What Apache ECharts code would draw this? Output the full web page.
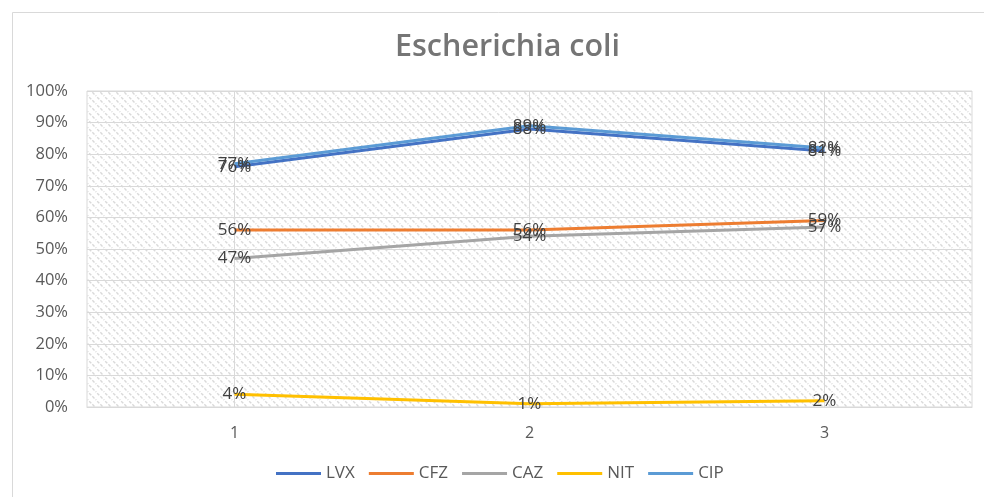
<!DOCTYPE html>
<html>
<head>
<meta charset="utf-8">
<script src="https://cdn.jsdelivr.net/npm/echarts@6/dist/echarts.min.js"></script>
<style>html,body{margin:0;padding:0;background:#fff;}#c{width:984px;height:497px;}</style>
</head>
<body>
<div id="c"></div>
<script>
const categories = ['1', '2', '3'];
const LVX = [0.76, 0.88, 0.81];
const CFZ = [0.56, 0.56, 0.59];
const CAZ = [0.47, 0.54, 0.57];
const NIT = [0.04, 0.01, 0.02];
const CIP = [0.77, 0.89, 0.82];
const seriesNames = ['LVX', 'CFZ', 'CAZ', 'NIT', 'CIP'];
const seriesData = [LVX, CFZ, CAZ, NIT, CIP];
const colors = ['#4472C4', '#ED7D31', '#A5A5A5', '#FFC000', '#5B9BD5'];

// hatch pattern tile
const tile = document.createElement('canvas');
tile.width = 8; tile.height = 8;
const tc = tile.getContext('2d');
tc.fillStyle = '#ffffff';
tc.fillRect(0, 0, 8, 8);
tc.strokeStyle = '#d9d9d9';
tc.lineWidth = 1.4;
tc.setLineDash([3, 1.5]);
tc.beginPath();
tc.moveTo(-2, -2); tc.lineTo(10, 10);
tc.moveTo(-10, -2); tc.lineTo(2, 10);
tc.moveTo(6, -2); tc.lineTo(18, 10);
tc.stroke();

const chart = echarts.init(document.getElementById('c'), null, {renderer: 'canvas'});
const font = '"Open Sans", "Liberation Sans", sans-serif';
chart.setOption({
  animation: false,
  backgroundColor: '#ffffff',
  graphic: [{
    type: 'rect', left: 10, top: 10, z: -10,
    shape: {width: 1000, height: 520},
    style: {fill: 'none', stroke: '#d9d9d9', lineWidth: 1}
  }],
  title: {
    text: 'Escherichia coli',
    left: 390, top: 27,
    textStyle: {fontFamily: font, fontSize: 30.5, fontWeight: 600, color: '#757575'}
  },
  legend: {
    bottom: 10, left: 271,
    itemWidth: 45, itemHeight: 3, itemGap: 14,
    icon: 'rect',
    textStyle: {fontFamily: font, fontSize: 17, color: '#595959'},
    data: seriesNames
  },
  grid: {
    left: 87, right: 12, top: 91, bottom: 90,
    show: true,
    backgroundColor: {image: tile, repeat: 'repeat'},
    borderColor: '#d9d9d9', borderWidth: 1
  },
  xAxis: {
    type: 'category',
    data: categories,
    boundaryGap: true,
    axisLine: {show: true, lineStyle: {color: '#d9d9d9'}},
    axisTick: {show: false},
    axisLabel: {fontFamily: font, fontSize: 16, color: '#595959', margin: 18},
    splitLine: {show: true, alignWithLabel: true, lineStyle: {color: '#d9d9d9'}}
  },
  yAxis: {
    type: 'value',
    min: 0, max: 1, interval: 0.1,
    axisLine: {show: false},
    axisTick: {show: false},
    axisLabel: {
      fontFamily: font, fontSize: 16.5, color: '#595959', margin: 19,
      formatter: v => Math.round(v * 100) + '%'
    },
    splitLine: {show: true, lineStyle: {color: '#d9d9d9'}}
  },
  series: seriesNames.map((n, i) => ({
    name: n,
    type: 'line',
    data: seriesData[i],
    symbol: 'circle',
    symbolSize: 0,
    showSymbol: true,
    lineStyle: {width: 3, color: colors[i]},
    itemStyle: {color: colors[i]},
    label: {
      show: true,
      position: 'inside',
      fontFamily: font, fontSize: 17, color: '#404040',
      formatter: p => Math.round(p.value * 100) + '%'
    },
    labelLayout: {hideOverlap: false}
  }))
});
</script>
</body>
</html>
